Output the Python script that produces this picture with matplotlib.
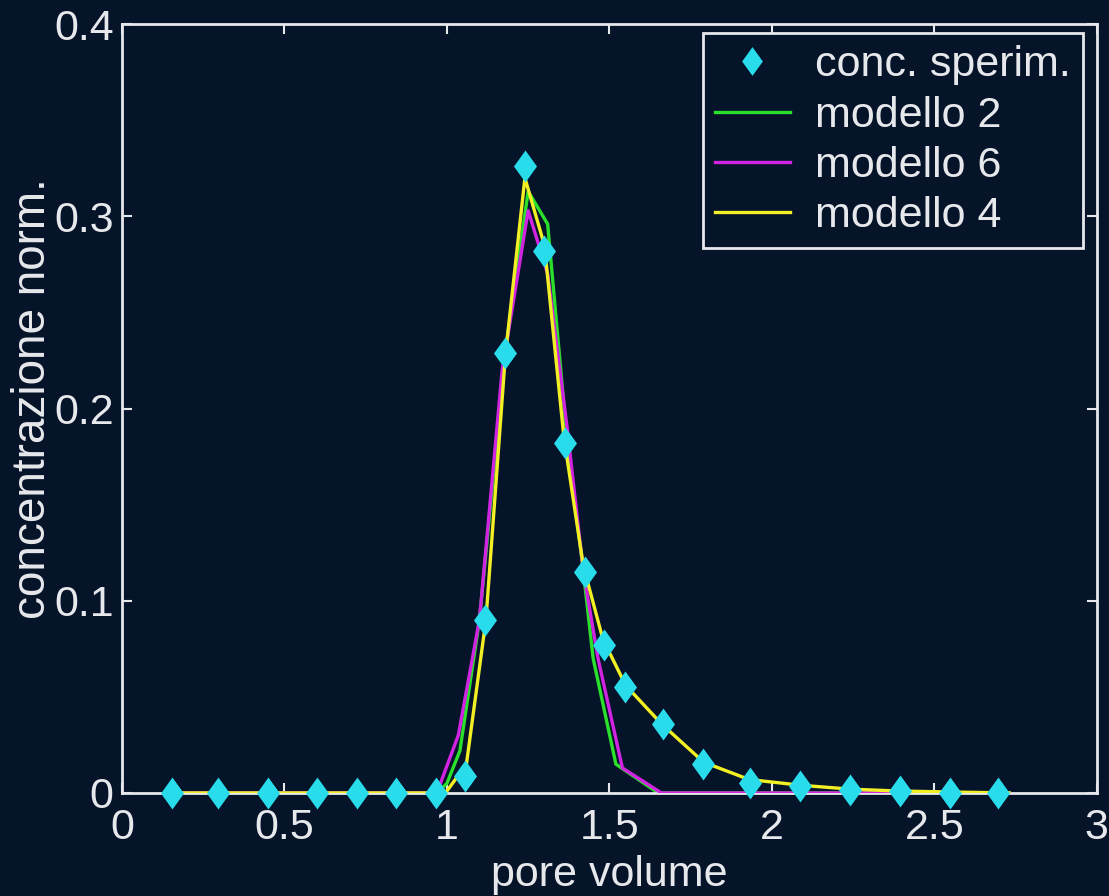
import matplotlib
matplotlib.use("Agg")
import matplotlib.pyplot as plt

# experimental concentration (diamonds)
x_exp = [0.154, 0.295, 0.449, 0.600, 0.723, 0.843, 0.966, 1.055, 1.117, 1.178, 1.240, 1.300,
         1.363, 1.425, 1.483, 1.548, 1.665, 1.788, 1.932, 2.086, 2.240, 2.394, 2.548, 2.695]
y_exp = [0, 0, 0, 0, 0, 0, 0, 0.009, 0.090, 0.229, 0.326, 0.282,
         0.182, 0.115, 0.077, 0.055, 0.036, 0.015, 0.005, 0.0035, 0.0017, 0.001, 0.0002, 0.0]

# modello 2 (green)
x_m2 = [0.15, 0.97, 1.00, 1.04, 1.10, 1.18, 1.25, 1.31, 1.37, 1.42, 1.45, 1.52, 1.65, 2.73]
y_m2 = [0, 0, 0.005, 0.022, 0.09, 0.23, 0.313, 0.296, 0.183, 0.115, 0.07, 0.015, 0, 0]

# modello 6 (magenta)
x_m6 = [0.15, 0.94, 0.98, 1.035, 1.10, 1.17, 1.25, 1.31, 1.37, 1.42, 1.465, 1.54, 1.66, 2.73]
y_m6 = [0, 0, 0.005, 0.03, 0.09, 0.22, 0.303, 0.27, 0.19, 0.115, 0.07, 0.013, 0, 0]

# modello 4 (yellow)
x_m4 = [0.15, 0.97, 1.00, 1.06, 1.12, 1.18, 1.24, 1.30, 1.36, 1.42, 1.48, 1.55, 1.66,
        1.79, 1.93, 2.09, 2.24, 2.39, 2.55, 2.73]
y_m4 = [0, 0, 0.001, 0.015, 0.09, 0.228, 0.32, 0.285, 0.185, 0.118, 0.08, 0.056, 0.036,
        0.016, 0.007, 0.004, 0.002, 0.001, 0.0005, 0.0]

x_ticks = [0, 0.5, 1, 1.5, 2, 2.5, 3]
x_ticklabels = ["0", "0.5", "1", "1.5", "2", "2.5", "3"]
y_ticks = [0, 0.1, 0.2, 0.3, 0.4]
y_ticklabels = ["0", "0.1", "0.2", "0.3", "0.4"]

bg = "#06142a"
fg = "#e6e8ec"
plt.rcParams["font.family"] = ["Liberation Sans", "DejaVu Sans"]
plt.rcParams["font.size"] = 31

# diamond a bit narrower than tall, like the original
diamond = [(0, 1), (0.72, 0), (0, -1), (-0.72, 0), (0, 1)]

fig = plt.figure(figsize=(11.09, 8.96), dpi=100, facecolor=bg)
ax = fig.add_axes([0.110, 0.115, 0.879, 0.858], facecolor=bg)

l2, = ax.plot(x_m2, y_m2, color="#2ae02a", lw=2.4, zorder=2, label="modello 2")
l6, = ax.plot(x_m6, y_m6, color="#d024e2", lw=2.4, zorder=3, label="modello 6")
l4, = ax.plot(x_m4, y_m4, color="#f2f024", lw=2.4, zorder=4, label="modello 4")
pts, = ax.plot(x_exp, y_exp, linestyle="none", marker=diamond, markersize=23,
               color="#28dcec", markeredgewidth=0, zorder=5, clip_on=False,
               label="conc. sperim.")

ax.set_xlim(0, 3)
ax.set_ylim(0, 0.4)
ax.set_xticks(x_ticks)
ax.set_xticklabels(x_ticklabels)
ax.set_yticks(y_ticks)
ax.set_yticklabels(y_ticklabels)
ax.tick_params(direction="in", length=7, width=1.5, colors=fg, top=True, right=True)
ax.tick_params(axis="x", pad=11)
ax.tick_params(axis="y", pad=6)
for s in ax.spines.values():
    s.set_color(fg)
    s.set_linewidth(2)

ax.set_xlabel("pore volume", color=fg, labelpad=5)
ax.set_ylabel("concentrazione norm.", color=fg, fontsize=33)
ax.yaxis.set_label_coords(-0.069, 0.513)

leg = ax.legend(handles=[pts, l2, l6, l4], loc="upper right", bbox_to_anchor=(0.986, 0.988),
                borderaxespad=0, borderpad=0.28, fancybox=False, facecolor=bg, edgecolor=fg,
                framealpha=1, handlelength=1.72, handletextpad=0.6, labelspacing=0.235,
                markerscale=0.9)
leg.get_frame().set_linewidth(2)
for t in leg.get_texts():
    t.set_color(fg)

fig.savefig("out.png", dpi=100, facecolor=bg)
